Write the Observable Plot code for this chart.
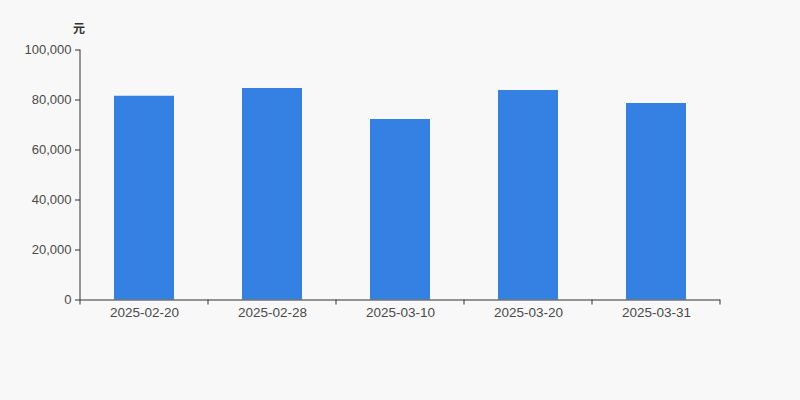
<!DOCTYPE html>
<html><head><meta charset="utf-8">
<script src="https://cdn.jsdelivr.net/npm/d3@7"></script>
<script src="https://cdn.jsdelivr.net/npm/@observablehq/plot@0.6"></script>
<style>
html,body{margin:0;padding:0;background:#f8f8f8;}
#chart{position:relative;width:800px;height:400px;}
#unit{position:absolute;left:73px;top:19px;font:bold 12px "Noto Sans CJK SC",sans-serif;color:#333;}
</style></head>
<body><div id="chart"><div id="unit">元</div></div>
<script>
const dates = ["2025-02-20","2025-02-28","2025-03-10","2025-03-20","2025-03-31"];
const values = [81500, 84600, 72200, 83800, 78600];
const yTicks = [0, 20000, 40000, 60000, 80000, 100000];
const data = dates.map((d,i)=>({date:d, value:values[i]}));

const plot = Plot.plot({
  width: 800, height: 400,
  marginLeft: 80, marginRight: 80, marginTop: 49.5, marginBottom: 100.5,
  style: {background: "transparent", fontFamily: "Liberation Sans, Arial, sans-serif", fontSize: "13px", color: "#333"},
  x: {domain: dates, paddingInner: 0.53, paddingOuter: 0.265, label: null},
  y: {domain: [0, 100000], label: null},
  marks: [
    Plot.barY(data, {x: "date", y: "value", fill: "#3481e3"}),
    Plot.axisY({ticks: yTicks, tickFormat: d3.format(","), tickSize: 5, tickPadding: 4, stroke: "#333", fill: "#4a4a4a", fontSize: 13}),
    Plot.axisX({tickSize: 0, tickPadding: 7, fill: "#4a4a4a", fontSize: 13.5}),
    Plot.ruleY([0], {stroke: "#333"})
  ]
});
document.getElementById("chart").appendChild(plot);

// left axis line and band-boundary ticks on x axis
const x = plot.scale("x");
const y = plot.scale("y");
const svg = d3.select(plot);
const step = x.step, bw = x.bandwidth;
const x0 = x.apply(dates[0]) - (step - bw)/2;
const yBase = y.apply(0), yTop = y.apply(100000);
svg.append("line").attr("x1", x0).attr("x2", x0).attr("y1", yTop).attr("y2", yBase).attr("stroke", "#333");
const bounds = d3.range(dates.length + 1).map(i => x0 + i*step);
svg.selectAll("line.bt").data(bounds).join("line").attr("class","bt")
  .attr("x1", d=>d).attr("x2", d=>d).attr("y1", yBase).attr("y2", yBase+5).attr("stroke", "#333");
</script></body></html>
